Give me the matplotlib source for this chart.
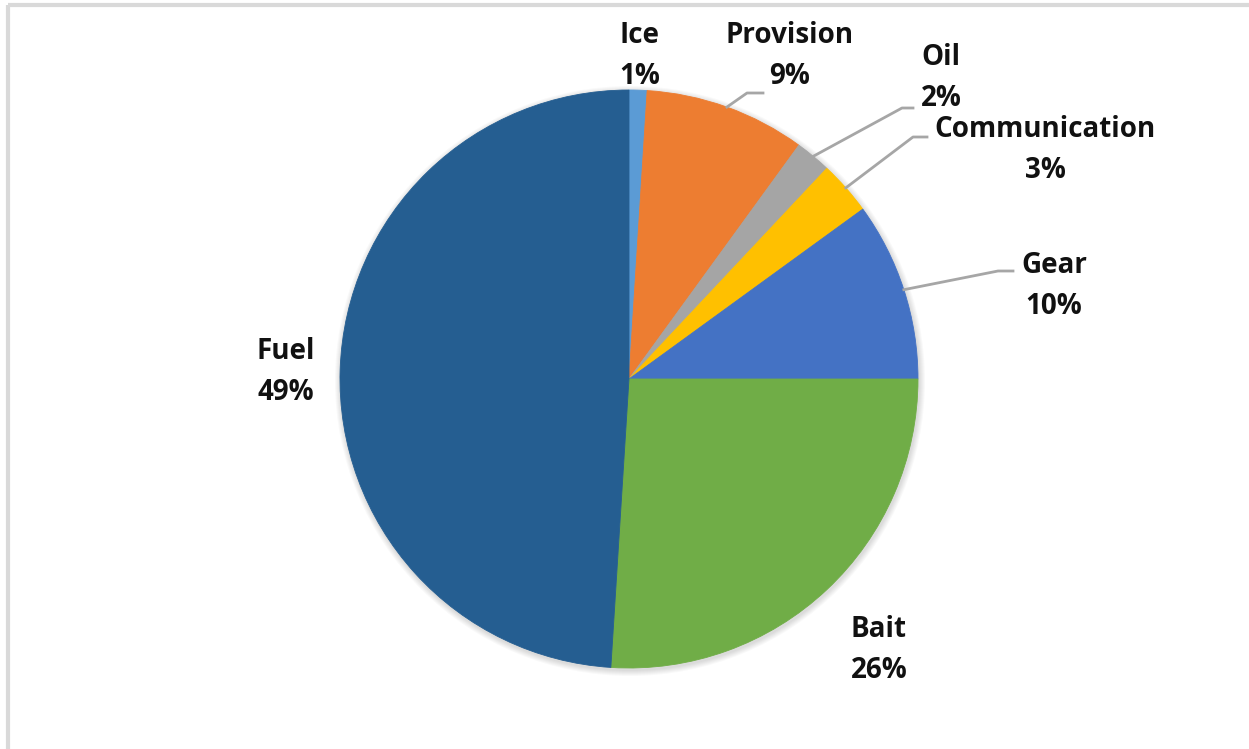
import numpy as np
import matplotlib.pyplot as plt

# cost shares (%)
categories = ["Ice", "Provision", "Oil", "Communication", "Gear", "Bait", "Fuel"]
shares = [1, 9, 2, 3, 10, 26, 49]
colors = ["#5B9BD5", "#ED7D31", "#A5A5A5", "#FFC000", "#4472C4", "#70AD47", "#255E91"]

W, H = 1249, 749
fig = plt.figure(figsize=(W / 100, H / 100), dpi=100)
ax = fig.add_axes([0, 0, 1, 1])

cx, cy, r = 629, 379, 289

# soft shadow
for k in range(6):
    ax.add_patch(plt.Circle((cx + 1, cy + 2), r + 1 + k, color="#000000", alpha=0.025, lw=0, zorder=1))

# y axis is inverted, so counterclock=True draws clockwise on screen
wedges, _ = ax.pie(shares, colors=colors, startangle=-90, counterclock=True,
                   center=(cx, cy), radius=r, frame=True)
for w in wedges:
    w.set_zorder(2)
    w.set_edgecolor(w.get_facecolor())
    w.set_linewidth(0.6)
ax.set_xlim(0, W)
ax.set_ylim(H, 0)
ax.set_aspect("equal")
ax.axis("off")

# label centers (pixel coords) and leader line elbows
label_pos = {
    "Ice": (640, 56),
    "Provision": (790, 56),
    "Oil": (941, 78),
    "Communication": (1045, 150),
    "Gear": (1054, 286),
    "Bait": (879, 650),
    "Fuel": (286, 372),
}
leaders = {
    "Provision": [(747, 93), (763, 93)],
    "Oil": [(902, 108), (913, 108)],
    "Communication": [(913, 137), (927, 137)],
    "Gear": [(998, 271), (1013, 271)],
}

cum = np.cumsum([0] + shares)
for i, name in enumerate(categories):
    x, y = label_pos[name]
    ax.text(x, y, f"{name}\n{shares[i]}%", ha="center", va="center",
            fontsize=20, fontweight="bold", family="Open Sans",
            linespacing=1.55, color="#111111", zorder=5)
    if name in leaders:
        mid = (cum[i] + cum[i + 1]) / 2 / 100 * 2 * np.pi
        sx = cx + r * np.sin(mid)
        sy = cy - r * np.cos(mid)
        pts = [(sx, sy)] + leaders[name]
        ax.plot([p[0] for p in pts], [p[1] for p in pts], color="#A6A6A6", lw=2, zorder=3)

# chart frame
ax.plot([8, 8], [H, 5], color="#D9D9D9", lw=3, solid_capstyle="butt", zorder=0)
ax.plot([8, W], [5, 5], color="#D9D9D9", lw=3, solid_capstyle="butt", zorder=0)

fig.savefig("out.png", dpi=100)
